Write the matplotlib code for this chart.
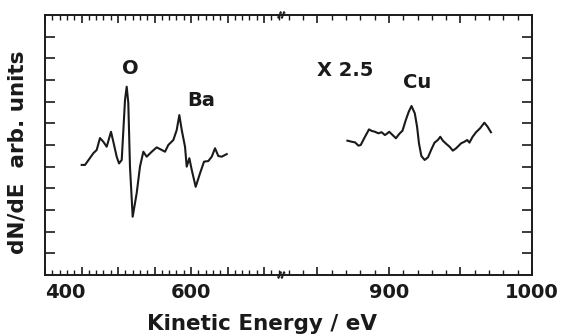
import numpy as np
import matplotlib
matplotlib.use("Agg")
import matplotlib.pyplot as plt
from matplotlib.ticker import MultipleLocator, FixedLocator

plt.rcParams['font.family'] = ['DejaVu Sans']

# O and Ba region (kinetic energy in eV, dN/dE in arb. units)
energy_low = [450.3, 454.8, 461.6, 466.2, 470.8, 475.3, 479.9, 484.5, 490.4, 493.6,
              498.2, 501.4, 505.1, 509.6, 511.9, 514.1, 516.4, 520.1, 525.6, 530.1,
              534.7, 539.3, 546.2, 553.0, 559.9, 564.4, 568.9, 575.8, 580.4, 584.0,
              587.3, 591.8, 594.1, 597.7, 601.0, 606.4, 612.3, 617.8, 623.7, 628.4,
              632.9, 637.4, 642.1, 648.9]
signal_low = [5.08, 5.08, 5.40, 5.62, 5.77, 6.32, 6.15, 5.92, 6.61, 6.15,
              5.46, 5.15, 5.31, 8.08, 8.69, 7.94, 5.00, 2.69, 3.78, 5.00,
              5.69, 5.46, 5.69, 5.89, 5.77, 5.69, 6.00, 6.23, 6.69, 7.38,
              6.69, 5.92, 5.00, 5.39, 4.85, 4.07, 4.69, 5.23, 5.26, 5.46,
              5.85, 5.49, 5.46, 5.58]

# Cu region (x2.5)
energy_high = [871.0, 874.1, 876.4, 878.7, 880.3, 883.3, 886.1, 888.0, 890.3, 892.6,
               894.9, 897.2, 898.4, 900.2, 902.6, 904.9, 907.2, 909.5, 911.8, 913.9,
               915.8, 918.1, 919.7, 921.0, 922.7, 925.0, 927.3, 929.7, 931.9, 934.2,
               935.9, 937.7, 940.1, 942.4, 944.7, 947.0, 950.5, 952.8, 954.7, 956.3,
               958.5, 960.9, 963.7, 966.7, 969.0, 971.3]
signal_high = [6.20, 6.15, 6.12, 5.97, 6.00, 6.38, 6.72, 6.65, 6.61, 6.54,
               6.59, 6.46, 6.51, 6.61, 6.46, 6.31, 6.51, 6.66, 7.15, 7.54,
               7.80, 7.46, 6.84, 6.08, 5.49, 5.31, 5.43, 5.80, 6.11, 6.23,
               6.38, 6.20, 6.05, 5.92, 5.74, 5.85, 6.08, 6.15, 6.23, 6.11,
               6.38, 6.59, 6.77, 7.03, 6.84, 6.59]

low_labels = {400: '400', 600: '600'}
high_labels = {900: '900', 1000: '1000'}

ink = '#1a1a1a'
W, H = 569, 336
fig = plt.figure(figsize=(W / 100, H / 100), dpi=100)

x0, xb, x1 = 45, 283, 532   # frame left, break, frame right (px)
yb, yt = 275, 15
ax1 = fig.add_axes([x0 / W, 1 - yb / H, (xb - x0) / W, (yb - yt) / H])
ax2 = fig.add_axes([xb / W, 1 - yb / H, (x1 - xb) / W, (yb - yt) / H])

ax1.plot(energy_low, signal_low, color=ink, lw=1.5)
ax2.plot(energy_high, signal_high, color=ink, lw=1.5)

for ax in (ax1, ax2):
    ax.set_ylim(0, 12)
    ax.yaxis.set_major_locator(FixedLocator(range(1, 12)))
    ax.set_yticklabels([])
    ax.xaxis.set_major_locator(MultipleLocator(50))
    ax.xaxis.set_minor_locator(MultipleLocator(10))
    ax.tick_params(axis='x', which='major', direction='in', length=6, width=1.2,
                   top=True, bottom=True, color=ink, labelsize=14, pad=6)
    ax.tick_params(axis='x', which='minor', direction='in', length=3.5, width=1.0,
                   top=True, bottom=True, color=ink)
    ax.tick_params(axis='y', direction='in', length=7, width=1.2, color=ink)
    for s in ax.spines.values():
        s.set_linewidth(1.4)
        s.set_color(ink)

ax1.spines['right'].set_visible(False)
ax2.spines['left'].set_visible(False)
ax1.tick_params(axis='y', left=True, right=False)
ax2.tick_params(axis='y', left=False, right=True)

def label_ticks(ax, labels, lo, hi):
    ticks = [t for t in np.arange(lo, hi + 1, 50)]
    ax.set_xticks(ticks)
    ax.set_xticklabels([labels.get(int(round(t)), '') for t in ticks],
                       fontweight='bold', color=ink)

label_ticks(ax1, low_labels, 400, 700)
label_ticks(ax2, high_labels, 850, 1000)
ax1.set_xlim(400, 726)
ax2.set_xlim(826, 1000)
for t in ax1.get_xticklabels():
    if t.get_text() == '400':
        t.set_ha('left')

# break marks
bx = xb / W
for by in (1 - yt / H, 1 - yb / H):
    for dx in (-0.006, 0.0):
        s = np.linspace(-1, 1, 20)
        xs = bx + dx + 0.003 * s
        ys = by + 0.012 * np.sin(np.pi * s) * 0.5 + 0.006 * s
        fig.add_artist(plt.Line2D(xs, ys, color=ink, lw=1.0))

txt = dict(fontweight='bold', color=ink, ha='center', va='center')
fig.text(130 / W, 1 - 68 / H, 'O', fontsize=14, **txt)
fig.text(201 / W, 1 - 101 / H, 'Ba', fontsize=14, **txt)
fig.text(345 / W, 1 - 70 / H, 'X 2.5', fontsize=14, **txt)
fig.text(417 / W, 1 - 83 / H, 'Cu', fontsize=14, **txt)
fig.text(262 / W, 1 - 324 / H, 'Kinetic Energy / eV', fontsize=15.5, **txt)
fig.text(18 / W, 1 - 152 / H, 'dN/dE  arb. units', fontsize=15.5, rotation=90, **txt)

fig.savefig('out.png', dpi=100)
